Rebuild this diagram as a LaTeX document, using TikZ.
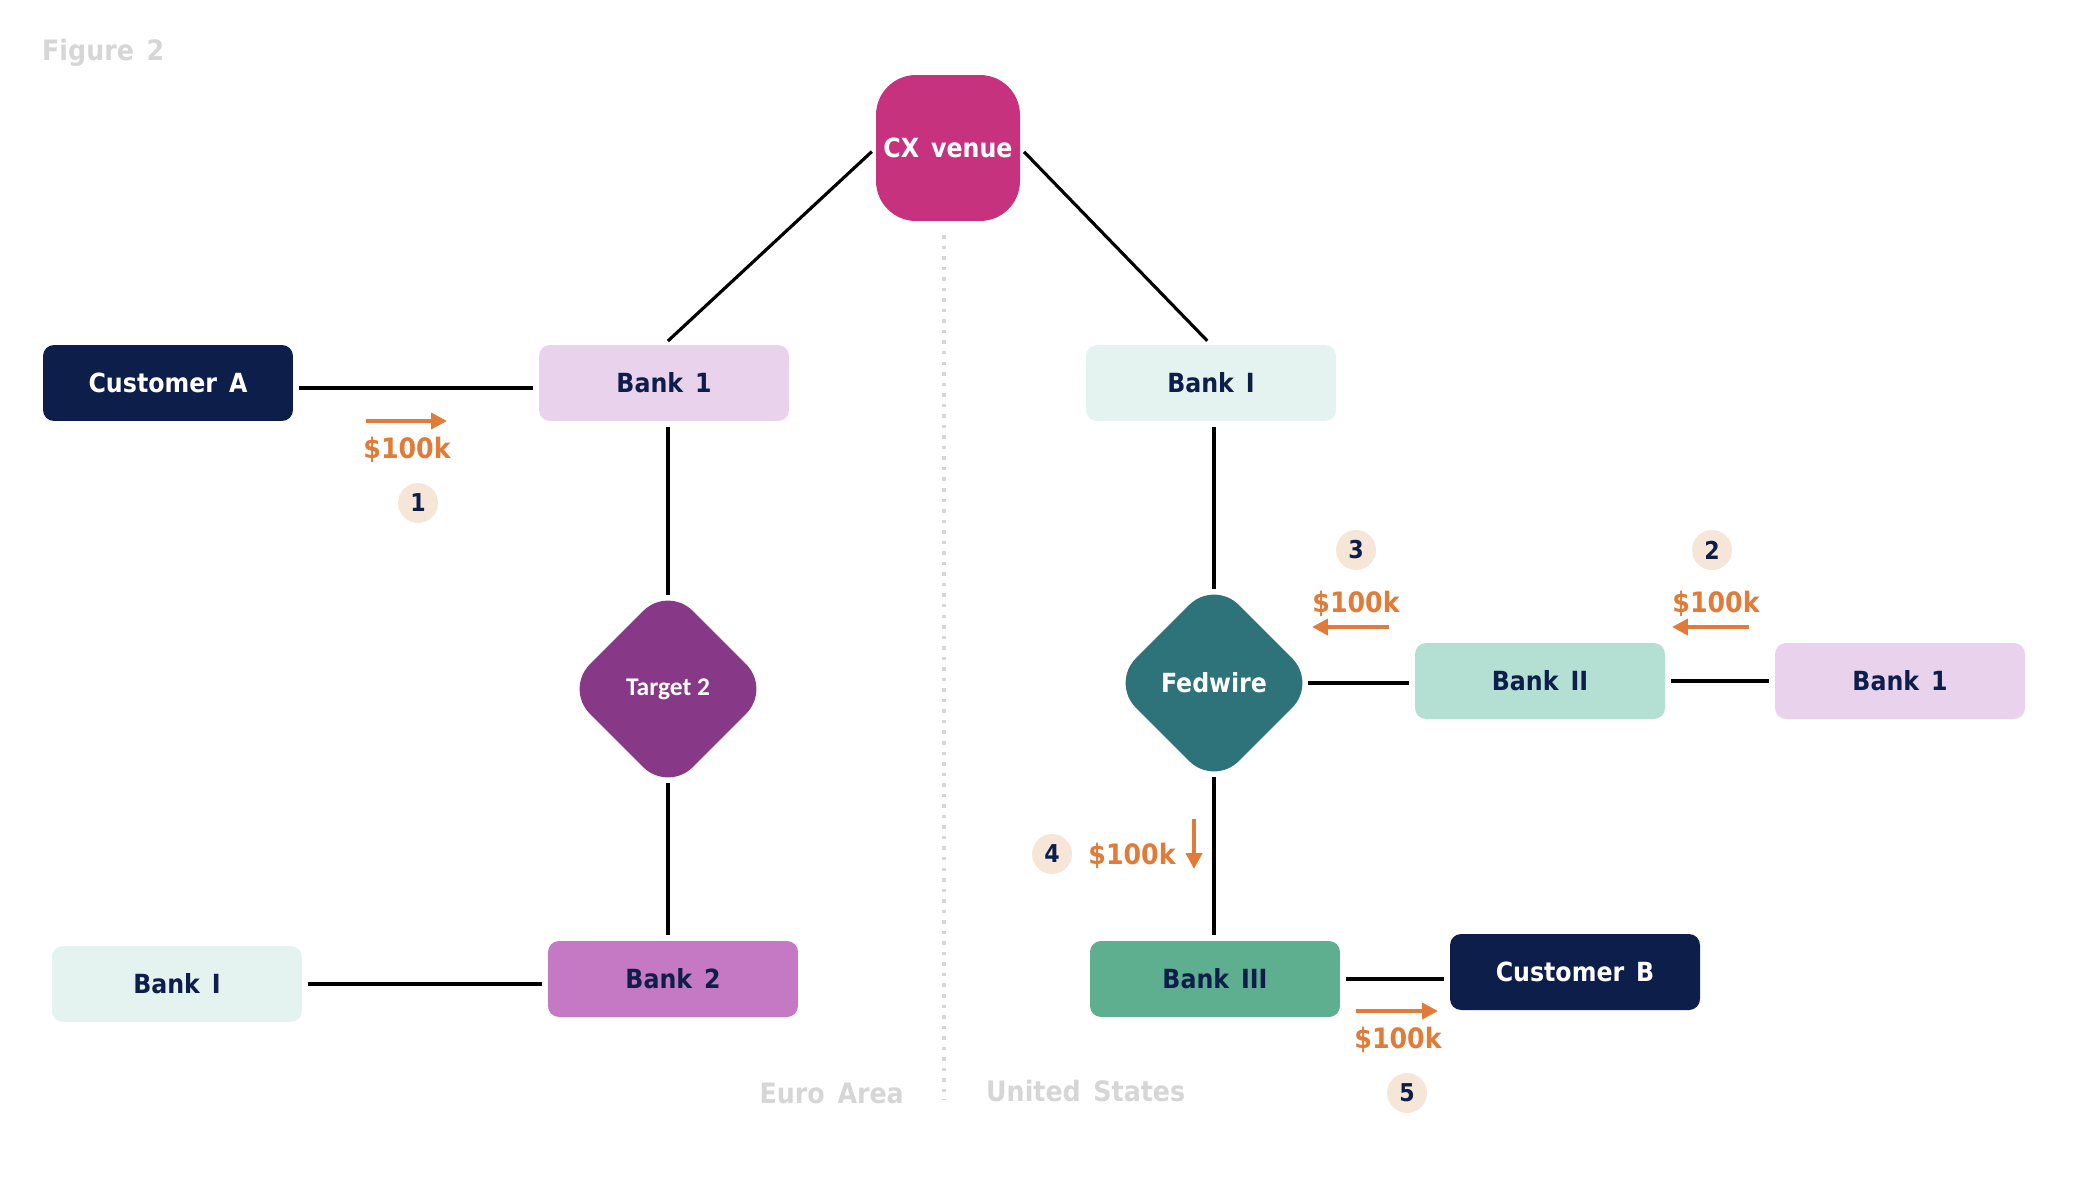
\documentclass[tikz,border=0pt]{standalone}
\usepackage{fontspec}
\setmainfont{DejaVu Sans Condensed}[WordSpace=1.45]
\newfontfamily\calfont{Carlito}
\usepackage{xcolor}
\usepackage{tikz}
\usetikzlibrary{arrows.meta,positioning,shapes.geometric}
\definecolor{NavyBox}{HTML}{0E1E4A}
\definecolor{LilacBox}{HTML}{E9D3EC}
\definecolor{MauveBox}{HTML}{C578C4}
\definecolor{MintBox}{HTML}{E4F3F0}
\definecolor{SeaBox}{HTML}{B3E0D3}
\definecolor{JadeBox}{HTML}{5DAF90}
\definecolor{VenuePink}{HTML}{C7327F}
\definecolor{TargetPurple}{HTML}{873987}
\definecolor{FedTeal}{HTML}{2E727A}
\definecolor{FlowOrange}{HTML}{E07B39}
\definecolor{StepBeige}{HTML}{F6E6D8}
\definecolor{GreyNote}{HTML}{D6D6D6}

\begin{document}
\begin{tikzpicture}[x=0.02cm,y=-0.02cm,
  box/.style={rounded corners=0.22cm,minimum width=5cm,minimum height=1.52cm,inner sep=0pt,
    text=NavyBox,font=\bfseries\fontsize{15}{18}\selectfont},
  hub/.style={diamond,rounded corners=0.7cm,minimum width=3.95cm,minimum height=3.95cm,
    inner sep=0pt,outer sep=-0.2cm,text=white},
  link/.style={line width=1.8pt,shorten <=3pt,shorten >=3pt},
  flow/.style={-{Triangle[length=9pt,width=9pt]},FlowOrange,line width=2.2pt},
  amount/.style={text=FlowOrange,font=\bfseries\fontsize{16}{19}\selectfont},
  stepno/.style={circle,fill=StepBeige,minimum size=0.8cm,inner sep=0pt,text=NavyBox,
    font=\bfseries\fontsize{14}{16}\selectfont},
  region/.style={text=GreyNote,font=\bfseries\fontsize{16}{19}\selectfont}]
  \useasboundingbox (0,0) rectangle (2074,1176);

  \node[region,anchor=west] (fig) at (36,53) {Figure 2};

  % divider between the two areas
  \draw[GreyNote,line width=2pt,dash pattern=on 2pt off 4pt] (944,235) -- (944,1100);
  \node[region,anchor=east] (euro) at (910,1093) {Euro Area};
  \node[region,anchor=west] (us) at (980,1091) {United States};

  % venue
  \node[rounded corners=0.8cm,fill=VenuePink,minimum width=2.88cm,minimum height=2.92cm,
        inner sep=0pt,text=white,font=\bfseries\fontsize{15}{18}\selectfont] (cx) at (948,148) {CX venue};

  % euro side
  \node[box,fill=NavyBox,text=white] (custA) at (168,383) {Customer A};
  \node[box,fill=LilacBox] (bankOne) at (664,383) {Bank 1};
  \node[hub,fill=TargetPurple,font=\calfont\bfseries\fontsize{14.5}{16}\selectfont] (tgt) at (668,689) {Target 2};
  \node[box,fill=MauveBox] (bankTwo) at (673,979) {Bank 2};
  \node[box,fill=MintBox] (bankIeu) at (177,984) {Bank I};

  % us side
  \node[box,fill=MintBox] (bankIus) at (1211,383) {Bank I};
  \node[hub,fill=FedTeal,font=\bfseries\fontsize{15}{18}\selectfont] (fed) at (1214,683) {Fedwire};
  \node[box,fill=SeaBox] (bankII) at (1540,681) {Bank II};
  \node[box,fill=LilacBox] (bankOneUs) at (1900,681) {Bank 1};
  \node[box,fill=JadeBox] (bankIII) at (1215,979) {Bank III};
  \node[box,fill=NavyBox,text=white] (custB) at (1575,972) {Customer B};

  % links
  \draw[link] ([yshift=-0.1cm]custA.east) -- ([yshift=-0.1cm]bankOne.west);
  \draw[link] (bankOne.north) -- (cx.west);
  \draw[link] (cx.east) -- (bankIus.north);
  \draw[link] (tgt.north |- bankOne.south) -- (tgt.north);
  \draw[link] (tgt.south) -- (tgt.south |- bankTwo.north);
  \draw[link] (bankIeu.east) -- (bankIeu.east -| bankTwo.west);
  \draw[link] (fed.north |- bankIus.south) -- (fed.north);
  \draw[link] (fed.east) -- (fed.east -| bankII.west);
  \draw[link] (bankII.east) -- (bankOneUs.west);
  \draw[link] (fed.south) -- (fed.south |- bankIII.north);
  \draw[link] (bankIII.east) -- (bankIII.east -| custB.west);

  % payment steps
  \coordinate (f1a) at (366,421); \coordinate (f1b) at (447,421);
  \draw[flow] (f1a) -- (f1b);
  \node[amount] (m1) at (407,450) {\$100k};
  \node[stepno] (s1) at (418,503) {1};

  \coordinate (f2a) at (1749,627); \coordinate (f2b) at (1672,627);
  \draw[flow] (f2a) -- (f2b);
  \node[amount] (m2) at (1716,604) {\$100k};
  \node[stepno] (s2) at (1712,550) {2};

  \coordinate (f3a) at (1389,627); \coordinate (f3b) at (1312,627);
  \draw[flow] (f3a) -- (f3b);
  \node[amount] (m3) at (1356,604) {\$100k};
  \node[stepno] (s3) at (1356,550) {3};

  \coordinate (f4a) at (1194,819); \coordinate (f4b) at (1194,869);
  \draw[flow] (f4a) -- (f4b);
  \node[amount] (m4) at (1132,856) {\$100k};
  \node[stepno] (s4) at (1052,854) {4};

  \coordinate (f5a) at (1356,1011); \coordinate (f5b) at (1438,1011);
  \draw[flow] (f5a) -- (f5b);
  \node[amount] (m5) at (1398,1040) {\$100k};
  \node[stepno] (s5) at (1407,1093) {5};
\end{tikzpicture}
\end{document}
